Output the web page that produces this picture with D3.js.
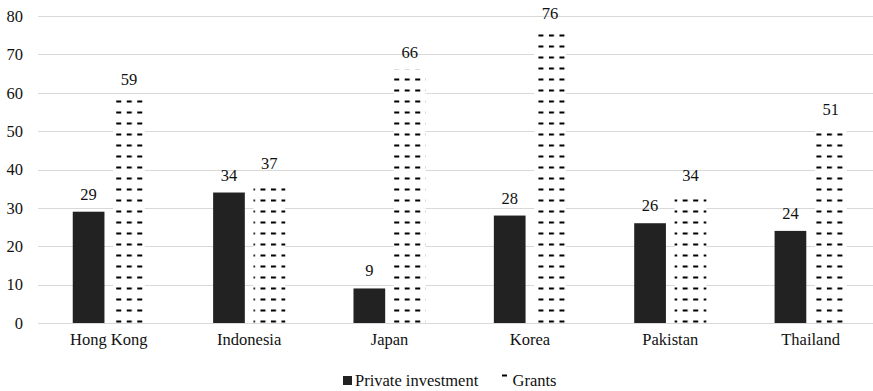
<!DOCTYPE html>
<html>
<head>
<meta charset="utf-8">
<script src="https://cdn.jsdelivr.net/npm/d3@7"></script>
<style>
  html, body { margin: 0; padding: 0; background: #fff; }
  svg { display: block; }
  svg text { font-family: "Liberation Serif", Tinos, "Times New Roman", Times, "DejaVu Serif", serif !important; fill: #111; }
</style>
</head>
<body>
<svg id="chart" width="873" height="391"></svg>
<script>
const categories = ["Hong Kong", "Indonesia", "Japan", "Korea", "Pakistan", "Thailand"];
const privateInvestment = [29, 34, 9, 28, 26, 24];
const grants = [59, 37, 66, 76, 34, 51];
const yTicks = [0, 10, 20, 30, 40, 50, 60, 70, 80];
const seriesNames = ["Private investment", "Grants"];

const svg = d3.select("#chart");
const fontSize = 16.5;

const y = d3.scaleLinear().domain([0, 80]).range([323, 16]);
const x0 = d3.scaleBand().domain(categories).range([38.6, 880.8]);
const x1 = d3.scaleBand().domain(seriesNames).range([34.15, 106.25]).paddingInner(0.215);

// gridlines
svg.append("g").selectAll("line").data(yTicks).join("line")
  .attr("x1", 38).attr("x2", 873)
  .attr("y1", d => Math.round(y(d)) + 0.5).attr("y2", d => Math.round(y(d)) + 0.5)
  .attr("stroke", "#d9d9d9").attr("stroke-width", 1.2);

// y axis labels
const yAxis = d3.axisLeft(y).tickValues(yTicks).tickSize(0).tickPadding(15);
const yg = svg.append("g").attr("transform", "translate(38,0)").call(yAxis);
yg.select(".domain").remove();
yg.attr("font-family", null).attr("font-size", null);
yg.selectAll("text").attr("font-size", fontSize).attr("fill", "#111");

// x axis labels
const xAxis = d3.axisBottom(x0).tickSize(0).tickPadding(10);
const xg = svg.append("g").attr("transform", "translate(0,323)").call(xAxis);
xg.select(".domain").remove();
xg.attr("font-family", null).attr("font-size", null);
xg.selectAll("text").attr("font-size", fontSize).attr("fill", "#111");

// patterns
const defs = svg.append("defs");
categories.forEach((c, i) => {
  const bx = x0(c) + x1("Grants");
  const p = defs.append("pattern")
    .attr("id", "pat" + i)
    .attr("patternUnits", "userSpaceOnUse")
    .attr("x", bx - 4).attr("y", y(0))
    .attr("width", 10.5).attr("height", 11);
  p.append("rect").attr("width", 10.5).attr("height", 11).attr("fill", "#fff");
  p.append("rect").attr("x", 0).attr("y", 8.5).attr("width", 5).attr("height", 2).attr("fill", "#000");
});

const groups = svg.append("g").selectAll("g").data(categories).join("g")
  .attr("transform", d => `translate(${x0(d)},0)`);

// private bars
groups.append("rect")
  .attr("x", x1("Private investment"))
  .attr("width", x1.bandwidth())
  .attr("y", (d, i) => y(privateInvestment[i]))
  .attr("height", (d, i) => y(0) - y(privateInvestment[i]))
  .attr("fill", "#222");

// grants bars
groups.append("rect")
  .attr("x", x1("Grants"))
  .attr("width", x1.bandwidth())
  .attr("y", (d, i) => y(grants[i]))
  .attr("height", (d, i) => y(0) - y(grants[i]))
  .attr("fill", (d, i) => `url(#pat${i})`);

// labels
groups.append("text")
  .attr("x", x1("Private investment") + x1.bandwidth() / 2)
  .attr("y", (d, i) => y(privateInvestment[i]) - 12)
  .attr("text-anchor", "middle").attr("font-size", fontSize)
  .text((d, i) => privateInvestment[i]);
groups.append("text")
  .attr("x", x1("Grants") + x1.bandwidth() / 2)
  .attr("y", (d, i) => y(grants[i]) - 12)
  .attr("text-anchor", "middle").attr("font-size", fontSize)
  .text((d, i) => grants[i]);

// legend
const lg = svg.append("g");
lg.append("rect").attr("x", 343).attr("y", 376).attr("width", 9).attr("height", 9).attr("fill", "#222");
lg.append("text").attr("x", 355).attr("y", 386).attr("font-size", fontSize).text(seriesNames[0]);
lg.append("rect").attr("x", 502).attr("y", 374.5).attr("width", 5).attr("height", 2).attr("fill", "#000");
lg.append("text").attr("x", 512.5).attr("y", 386).attr("font-size", fontSize).text(seriesNames[1]);
</script>
</body>
</html>
